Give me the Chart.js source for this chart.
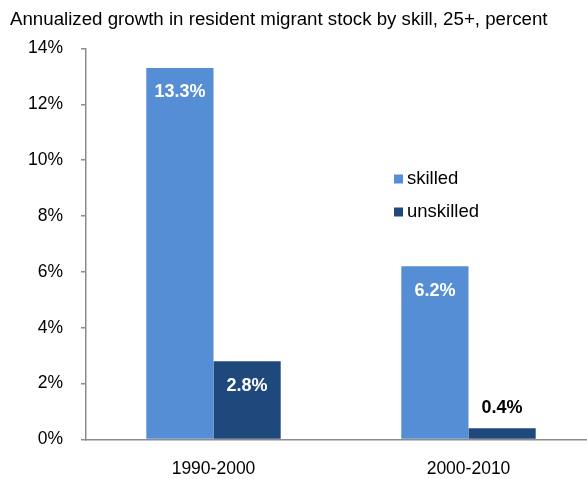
<!DOCTYPE html>
<html>
<head>
<meta charset="utf-8">
<script src="https://cdn.jsdelivr.net/npm/chart.js@4"></script>
<style>
  html,body{margin:0;padding:0;background:#fff;overflow:hidden;}
  #wrap{width:587px;height:479px;overflow:hidden;}
</style>
</head>
<body>
<div id="wrap"><canvas id="growthChart" width="596" height="479"></canvas></div>
<script>
const periods=["1990-2000","2000-2010"];
const skilled=[13.3,6.2];
const unskilled=[2.8,0.4];
const seriesNames=["skilled","unskilled"];
const yTicks=[0,2,4,6,8,10,12,14];

const FONT="'Liberation Sans', Arial, sans-serif";
const AXIS="#8c8c8c";

// value labels on each bar: white inside tall bars, black above short ones
const barLabels={
  id:"barLabels",
  afterDatasetsDraw(chart){
    const ctx=chart.ctx;
    ctx.save();
    ctx.font="bold 18px "+FONT;
    ctx.textAlign="center";
    ctx.textBaseline="middle";
    chart.data.datasets.forEach((ds,i)=>{
      chart.getDatasetMeta(i).data.forEach((bar,j)=>{
        const txt=ds.data[j].toFixed(1)+"%";
        const h=bar.base-bar.y;
        if(h>30){
          ctx.fillStyle="#fff";
          ctx.fillText(txt,bar.x,bar.y+24.5);
        }else{
          ctx.fillStyle="#000";
          ctx.fillText(txt,bar.x,bar.y-20);
        }
      });
    });
    ctx.restore();
  }
};

// legend sits inside the plot, right of centre
const innerLegend={
  id:"innerLegend",
  afterDraw(chart){
    const ctx=chart.ctx;
    ctx.save();
    ctx.font="18.5px "+FONT;
    ctx.textBaseline="middle";
    chart.data.datasets.forEach((ds,i)=>{
      const y=179+i*33;
      ctx.fillStyle=ds.backgroundColor;
      ctx.fillRect(394,y-4.5,9,9);
      ctx.fillStyle="#000";
      ctx.fillText(ds.label,407,y);
    });
    ctx.restore();
  }
};

new Chart(document.getElementById("growthChart"),{
  type:"bar",
  data:{
    labels:periods,
    datasets:[
      {label:seriesNames[0],data:skilled,backgroundColor:"#558ed5"},
      {label:seriesNames[1],data:unskilled,backgroundColor:"#1f497d"}
    ]
  },
  options:{
    responsive:false,
    animation:false,
    categoryPercentage:0.527,
    barPercentage:1,
    layout:{padding:{left:10,right:0,bottom:1}},
    plugins:{
      legend:{display:false},
      tooltip:{enabled:false},
      title:{
        display:true,
        text:"Annualized growth in resident migrant stock by skill, 25+, percent",
        align:"start",
        color:"#000",
        font:{family:FONT,size:18.7,weight:"normal"},
        padding:{top:9,bottom:17}
      }
    },
    scales:{
      x:{
        afterFit(scale){scale.height=38.5;},
        grid:{display:false,drawTicks:false},
        border:{color:AXIS,width:1.5},
        ticks:{color:"#000",font:{family:FONT,size:17.5},padding:19}
      },
      y:{
        min:0,max:14,
        afterBuildTicks(scale){scale.ticks=yTicks.map(v=>({value:v}));},
        afterFit(scale){scale.width=76;},
        grid:{drawOnChartArea:false,drawTicks:true,tickLength:5,color:AXIS,lineWidth:1.5},
        border:{color:AXIS,width:1.5},
        ticks:{color:"#000",font:{family:FONT,size:17.5},padding:18,callback:v=>v+"%"}
      }
    }
  },
  plugins:[barLabels,innerLegend]
});
</script>
</body>
</html>
